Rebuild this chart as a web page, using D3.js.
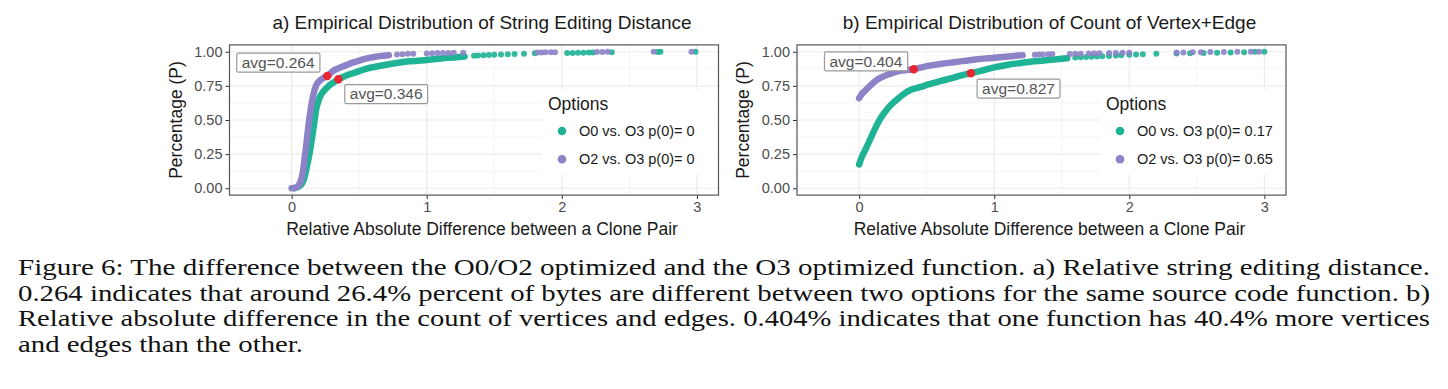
<!DOCTYPE html>
<html>
<head>
<meta charset="utf-8">
<script src="https://cdn.jsdelivr.net/npm/d3@7"></script>
<style>
  body { margin: 0; background: #fff; }
  svg { display: block; }
</style>
</head>
<body>
<div id="fig"></div>
<script>
// ---- data ----
const xTicks = [0, 1, 2, 3]
const xMinor = [0.5, 1.5, 2.5]
const yTicks = [0, 0.25, 0.5, 0.75, 1]
const yMinor = [0.125, 0.375, 0.625, 0.875]
const yTickLabels = ["0.00", "0.25", "0.50", "0.75", "1.00"]

const titles = ["a) Empirical Distribution of String Editing Distance",
                "b) Empirical Distribution of Count of Vertex+Edge"]
const xTitle = "Relative Absolute Difference between a Clone Pair"
const yTitle = "Percentage (P)"
const legendTitle = "Options"
const legendA = ["O0 vs. O3 p(0)= 0", "O2 vs. O3 p(0)= 0"]
const legendB = ["O0 vs. O3 p(0)= 0.17", "O2 vs. O3 p(0)= 0.65"]

// panel a, O0 vs O3 (teal)
const aO0Curve = [[0.02,0.0],[0.05,0.01],[0.08,0.04],[0.1,0.1],[0.115,0.17],[0.13,0.24],[0.145,0.33],[0.16,0.43],
  [0.17,0.5],[0.18,0.57],[0.195,0.63],[0.215,0.68],[0.245,0.72],[0.28,0.755],[0.31,0.775],[0.346,0.798],
  [0.38,0.815],[0.43,0.835],[0.5,0.858],[0.55,0.875],[0.62,0.89],[0.7,0.905],[0.78,0.918],[0.87,0.93],
  [0.95,0.935],[1.0,0.94],[1.08,0.948],[1.15,0.955],[1.22,0.96],[1.28,0.965]]
const aO0Tail = [[1.35,0.97],[1.38,0.972],[1.42,0.974],[1.46,0.976],[1.5,0.978],[1.55,0.98],[1.6,0.982],
  [1.65,0.984],[1.72,0.986],[1.8,0.988],[2.04,0.99],[2.08,0.991],[2.12,0.992],[2.16,0.993],[2.2,0.994],
  [2.23,0.995],[2.37,0.996],[2.71,0.998],[2.73,0.999],[2.99,1.0]]
// panel a, O2 vs O3 (purple)
const aO2Curve = [[0.0,0.0],[0.03,0.005],[0.05,0.02],[0.07,0.06],[0.085,0.13],[0.1,0.25],[0.11,0.33],
  [0.12,0.42],[0.13,0.5],[0.145,0.6],[0.16,0.68],[0.18,0.75],[0.21,0.79],[0.24,0.81],[0.264,0.822],
  [0.3,0.855],[0.35,0.88],[0.4,0.9],[0.45,0.92],[0.5,0.935],[0.55,0.95],[0.6,0.96],[0.65,0.968],[0.72,0.975]]
const aO2Tail = [[0.78,0.98],[0.82,0.982],[0.86,0.985],[0.9,0.985],[1.0,0.987],[1.04,0.988],[1.08,0.99],
  [1.12,0.99],[1.16,0.99],[1.2,0.992],[1.27,0.993],[1.82,0.994],[1.85,0.995],[1.88,0.996],[1.92,0.997],
  [1.95,0.997],[2.26,0.998],[2.3,0.998],[2.34,0.999],[2.68,0.999],[2.96,1.0]]

// panel b, O0 vs O3 (teal)
const bO0Curve = [[0,0.175],[0.02,0.23],[0.05,0.29],[0.08,0.355],[0.11,0.42],[0.14,0.48],[0.17,0.53],
  [0.2,0.57],[0.24,0.615],[0.28,0.65],[0.33,0.69],[0.38,0.72],[0.45,0.74],[0.52,0.762],[0.6,0.785],
  [0.68,0.805],[0.75,0.825],[0.827,0.843],[0.9,0.86],[1.0,0.885],[1.1,0.905],[1.2,0.918],[1.3,0.93],
  [1.4,0.94],[1.5,0.948],[1.54,0.952]]
const bO0Tail = [[1.6,0.958],[1.64,0.96],[1.68,0.962],[1.72,0.963],[1.76,0.965],[1.8,0.966],[1.85,0.968],
  [1.9,0.972],[1.94,0.975],[2.0,0.978],[2.05,0.98],[2.1,0.982],[2.2,0.985],[2.35,0.987],[2.45,0.989],
  [2.55,0.991],[2.65,0.993],[2.75,0.995],[2.85,0.997],[2.93,0.999],[3.0,1.0]]
// panel b, O2 vs O3 (purple)
const bO2Curve = [[0,0.66],[0.02,0.69],[0.05,0.72],[0.08,0.75],[0.12,0.785],[0.16,0.81],[0.22,0.835],
  [0.28,0.855],[0.34,0.865],[0.404,0.872],[0.46,0.885],[0.52,0.898],[0.6,0.91],[0.7,0.923],[0.78,0.933],
  [0.87,0.945],[0.95,0.952],[1.02,0.957],[1.1,0.965],[1.16,0.97],[1.21,0.975]]
const bO2Tail = [[1.3,0.978],[1.33,0.98],[1.36,0.98],[1.4,0.982],[1.43,0.983],[1.56,0.984],[1.6,0.985],
  [1.64,0.986],[1.7,0.987],[1.74,0.988],[1.78,0.989],[1.85,0.99],[1.9,0.991],[1.95,0.992],[2.0,0.993],
  [2.35,0.994],[2.4,0.995],[2.47,0.996],[2.53,0.997],[2.6,0.998],[2.7,0.998],[2.8,0.999],[2.9,0.999],[2.96,1.0]]

// averages (red points) and their labels
const avgA = [[0.346, 0.798], [0.264, 0.822]]
const avgB = [[0.827, 0.843], [0.404, 0.872]]
const avgLabelsA = [["avg=0.346", 0.70, 0.69], ["avg=0.264", -0.10, 0.92]]
const avgLabelsB = [["avg=0.827", 1.18, 0.73], ["avg=0.404", 0.05, 0.93]]

const caption = [
  "Figure 6: The difference between the O0/O2 optimized and the O3 optimized function. a) Relative string editing distance.",
  "0.264 indicates that around 26.4% percent of bytes are different between two options for the same source code function. b)",
  "Relative absolute difference in the count of vertices and edges. 0.404% indicates that one function has 40.4% more vertices",
  "and edges than the other."
]

// ---- drawing ----
var W = 1448, H = 389
var teal = "#1DB394", purple = "#8C82C8", red = "#E8262F"

var svg = d3.select("#fig").append("svg")
    .attr("width", W).attr("height", H)
svg.append("rect").attr("width", W).attr("height", H).attr("fill", "#fff")

var panels = [
  { left: 229.5, title: titles[0], legend: legendA, legX: 548, series: [[aO0Curve, aO0Tail], [aO2Curve, aO2Tail]],
    avg: avgA, labels: avgLabelsA },
  { left: 797, title: titles[1], legend: legendB, legX: 1106, series: [[bO0Curve, bO0Tail], [bO2Curve, bO2Tail]],
    avg: avgB, labels: avgLabelsB }
]

var font = "Liberation Sans, Arial, Helvetica, sans-serif"

panels.forEach(function (p) {
  var x = d3.scaleLinear().domain([-0.46, 3.16]).range([p.left, p.left + 489])
  var y = d3.scaleLinear().domain([-0.05, 1.05]).range([195.1, 44.9])
  var g = svg.append("g")

  // grid
  g.selectAll(".xmin").data(xMinor).enter().append("line")
    .attr("x1", d => x(d)).attr("x2", d => x(d)).attr("y1", y(1.05)).attr("y2", y(-0.05))
    .attr("stroke", "#F3F3F3").attr("stroke-width", 0.8)
  g.selectAll(".ymin").data(yMinor).enter().append("line")
    .attr("x1", x(-0.46)).attr("x2", x(3.16)).attr("y1", d => y(d)).attr("y2", d => y(d))
    .attr("stroke", "#F3F3F3").attr("stroke-width", 0.8)
  g.selectAll(".xmaj").data(xTicks).enter().append("line")
    .attr("x1", d => x(d)).attr("x2", d => x(d)).attr("y1", y(1.05)).attr("y2", y(-0.05))
    .attr("stroke", "#EBEBEB").attr("stroke-width", 1.2)
  g.selectAll(".ymaj").data(yTicks).enter().append("line")
    .attr("x1", x(-0.46)).attr("x2", x(3.16)).attr("y1", d => y(d)).attr("y2", d => y(d))
    .attr("stroke", "#EBEBEB").attr("stroke-width", 1.2)

  // legend background hides grid
  g.append("rect")
    .attr("x", p.legX - 6).attr("y", 89).attr("width", x(3.16) - p.legX + 5).attr("height", 86)
    .attr("fill", "#fff")

  // axes
  var xAxis = d3.axisBottom(x).tickValues(xTicks).tickSize(4).tickPadding(3).tickFormat(d3.format("d"))
  var yAxis = d3.axisLeft(y).tickValues(yTicks).tickSize(4).tickPadding(3)
    .tickFormat(function (d, i) { return yTickLabels[i] })
  var gx = g.append("g").attr("transform", "translate(0," + y(-0.05) + ")").call(xAxis)
  var gy = g.append("g").attr("transform", "translate(" + x(-0.46) + ",0)").call(yAxis)
  ;[gx, gy].forEach(function (a) {
    a.select(".domain").remove()
    a.selectAll(".tick line").attr("stroke", "#333")
    a.selectAll("text").attr("fill", "#4D4D4D").attr("font-family", font).attr("font-size", 14.5)
  })

  // series
  var line = d3.line().x(d => x(d[0])).y(d => y(d[1])).curve(d3.curveMonotoneX)
  var cols = [teal, purple]
  p.series.forEach(function (s, i) {
    g.append("path").datum(s[0]).attr("d", line).attr("fill", "none")
      .attr("stroke", cols[i]).attr("stroke-width", 6.5)
      .attr("stroke-linecap", "round").attr("stroke-linejoin", "round")
    g.selectAll(null).data(s[1]).enter().append("circle")
      .attr("cx", d => x(d[0])).attr("cy", d => y(d[1])).attr("r", 3)
      .attr("fill", cols[i]).attr("opacity", 0.9)
  })

  // averages
  g.selectAll(null).data(p.avg).enter().append("circle")
    .attr("cx", d => x(d[0])).attr("cy", d => y(d[1])).attr("r", 4.2)
    .attr("fill", red)

  p.labels.forEach(function (l) {
    var lg = g.append("g")
    var t = lg.append("text").attr("x", x(l[1])).attr("y", y(l[2])).attr("dy", "0.35em")
      .attr("text-anchor", "middle").attr("fill", "#555")
      .attr("font-family", font).attr("font-size", 15.5).text(l[0])
    var bb = t.node().getBBox()
    lg.insert("rect", "text").attr("x", bb.x - 5).attr("y", y(l[2]) - 9.5)
      .attr("width", bb.width + 10).attr("height", 19)
      .attr("fill", "#fff").attr("stroke", "#999").attr("stroke-width", 1.2).attr("rx", 1.5)
  })

  // panel border
  g.append("rect").attr("x", x(-0.46)).attr("y", y(1.05))
    .attr("width", x(3.16) - x(-0.46)).attr("height", y(-0.05) - y(1.05))
    .attr("fill", "none").attr("stroke", "#555").attr("stroke-width", 1.2)

  // legend
  var lx = p.legX
  g.append("text").attr("x", lx).attr("y", 110).attr("fill", "#1a1a1a")
    .attr("font-family", font).attr("font-size", 17.5).text(legendTitle)
  p.legend.forEach(function (t, i) {
    g.append("circle").attr("cx", lx + 14).attr("cy", 131 + i * 28.3).attr("r", 4.3).attr("fill", cols[i])
    g.append("text").attr("x", lx + 31).attr("y", 131 + i * 28.3).attr("dy", "0.35em").attr("fill", "#1a1a1a")
      .attr("font-family", font).attr("font-size", 14.5).text(t)
  })

  // titles
  var cx = (x(-0.46) + x(3.16)) / 2
  g.append("text").attr("x", cx + 8).attr("y", 22).attr("dy", "0.35em").attr("text-anchor", "middle")
    .attr("fill", "#1a1a1a").attr("font-family", font).attr("font-size", 19).text(p.title)
  g.append("text").attr("x", cx + 8).attr("y", 229).attr("dy", "0.35em").attr("text-anchor", "middle")
    .attr("fill", "#1a1a1a").attr("font-family", font).attr("font-size", 17.5).text(xTitle)
  g.append("text").attr("transform", "translate(" + (p.left - 54) + "," + y(0.5) + ") rotate(-90)")
    .attr("dy", "0.35em").attr("text-anchor", "middle")
    .attr("fill", "#1a1a1a").attr("font-family", font).attr("font-size", 17.5).text(yTitle)
})

// caption (Times-like text, justified to the text block)
svg.selectAll(".cap").data(caption).enter().append("text")
  .attr("x", 18).attr("y", (d, i) => 275 + i * 25.5)
  .attr("fill", "#111").attr("font-family", "Liberation Serif, Times New Roman, serif")
  .attr("font-size", 23.5)
  .attr("textLength", (d, i) => i < 3 ? 1412 : 285)
  .attr("lengthAdjust", "spacingAndGlyphs")
  .text(d => d)
</script>
</body>
</html>
